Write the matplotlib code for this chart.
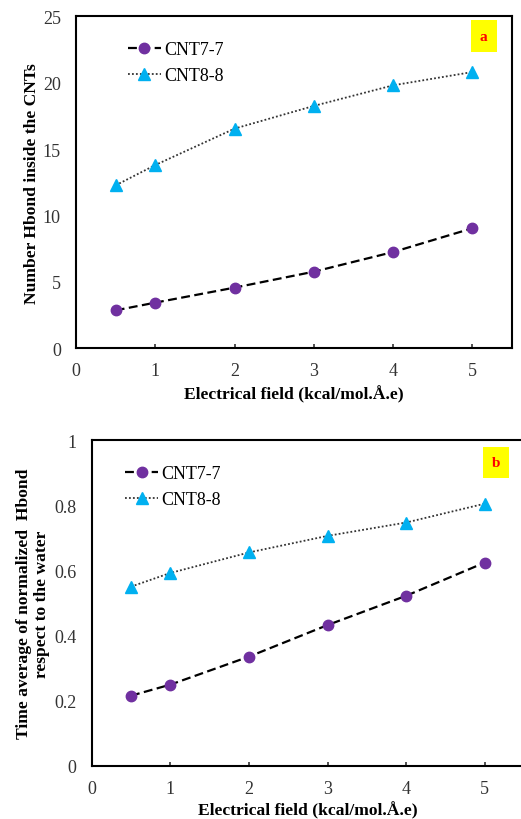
import matplotlib.pyplot as plt

# electric field values (kcal/mol.Å.e)
field = [0.5, 1, 2, 3, 4, 5]

# panel a: number of H-bonds inside the CNTs
hb_cnt77 = [2.86, 3.44, 4.57, 5.77, 7.25, 9.04]
hb_cnt88 = [12.27, 13.8, 16.54, 18.25, 19.8, 20.8]

# panel b: time average of normalized H-bond
norm_cnt77 = [0.215, 0.249, 0.335, 0.432, 0.522, 0.624]
norm_cnt88 = [0.55, 0.592, 0.655, 0.706, 0.747, 0.805]

plt.rcParams['font.family'] = ['Liberation Serif', 'DejaVu Serif']

purple = '#7030A0'
cyan = '#00B0F0'

fig = plt.figure(figsize=(5.21, 8.2), dpi=100)
ax_a = fig.add_axes([0.146, 0.574, 0.837, 0.405])
ax_b = fig.add_axes([0.176, 0.065, 0.830, 0.397])


def draw_panel(ax, y77, y88, ylim, yticks, ylabel, tag, tag_xy, leg_anchor,
               ylpad, xlpad):
    ax.plot(field, y77, linestyle=(0, (4, 2)), color='black', lw=1.6,
            marker='o', ms=7.5, mfc=purple, mec=purple, label='CNT7-7')
    ax.plot(field, y88, linestyle=(0, (1, 1.2)), color='#333333', lw=1.3,
            marker='^', ms=8, mfc=cyan, mec=cyan, label='CNT8-8')
    ax.set_xlim(0, 5.5)
    ax.set_ylim(*ylim)
    ax.set_xticks([0, 1, 2, 3, 4, 5])
    ax.set_yticks(yticks)
    ax.tick_params(labelsize=13, labelcolor='#333333')
    ax.tick_params(axis='x', direction='in', length=3, width=1.2,
                   color='#333333', pad=10)
    ax.tick_params(axis='y', length=0, pad=11)
    for s in ax.spines.values():
        s.set_linewidth(1.5)
    ax.set_xlabel('Electrical field (kcal/mol.Å.e)', fontsize=12.6,
                  fontweight='bold', labelpad=xlpad)
    ax.set_ylabel(ylabel, fontsize=12.6, fontweight='bold', labelpad=ylpad,
                  linespacing=1.15)
    ax.legend(loc='upper left', bbox_to_anchor=leg_anchor, frameon=False,
              fontsize=13, handlelength=1.85, handletextpad=0.15,
              labelspacing=0.5, borderaxespad=0)
    ax.text(tag_xy[0], tag_xy[1], tag, transform=ax.transAxes, color='red',
            fontsize=11, fontweight='bold', ha='center', va='center',
            bbox=dict(boxstyle='square,pad=0.6', fc='yellow', ec='none'))


draw_panel(ax_a, hb_cnt77, hb_cnt88, (0, 25), [0, 5, 10, 15, 20, 25],
           'Number Hbond inside the CNTs', 'a', (0.935, 0.94), (0.102, 0.946),
           2, 4)
draw_panel(ax_b, norm_cnt77, norm_cnt88, (0, 1), [0, 0.2, 0.4, 0.6, 0.8, 1],
           'Time average of normalized  Hbond\nrespect to the water', 'b',
           (0.935, 0.931), (0.06, 0.945), 3, 3)
ax_b.set_yticklabels(['0', '0.2', '0.4', '0.6', '0.8', '1'])

fig.savefig('out.png', dpi=100)
